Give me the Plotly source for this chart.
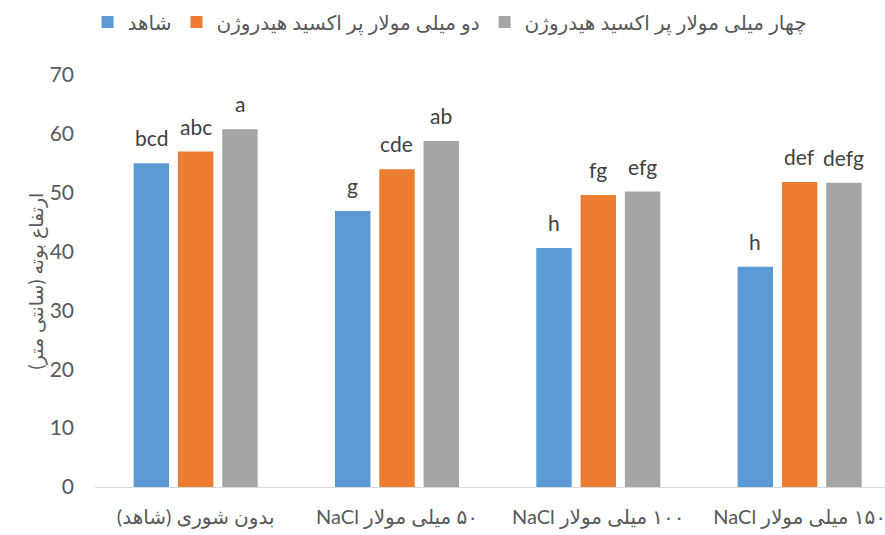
import plotly.graph_objects as go

RLE, PDF = "\u202b", "\u202c"


def rtl(s):
    # lay the string out as a right-to-left paragraph
    return RLE + s + PDF


# Plant height by salinity level and hydrogen peroxide treatment
categories = [
    "بدون شوری (شاهد)",
    "۵۰ میلی مولار NaCl",
    "۱۰۰ میلی مولار NaCl",
    "۱۵۰ میلی مولار NaCl",
]
series_names = [
    "شاهد",
    "دو میلی مولار پر اکسید هیدروژن",
    "چهار میلی مولار پر اکسید هیدروژن",
]
control = [55.0, 46.9, 40.6, 37.4]
h2o2_2mm = [57.0, 54.0, 49.6, 51.8]
h2o2_4mm = [60.8, 58.8, 50.2, 51.7]

letters_control = ["bcd", "g", "h", "h"]
letters_2mm = ["abc", "cde", "fg", "def"]
letters_4mm = ["a", "ab", "efg", "defg"]

y_ticks = [0, 10, 20, 30, 40, 50, 60, 70]
y_title = "ارتفاع بوته (سانتی متر)"

colors = ["#5B9BD5", "#ED7D31", "#A5A5A5"]
FONT = "Lato, 'DejaVu Sans', sans-serif"

W, H = 885, 535
M_L, M_R, M_T, M_B = 95, 0, 75, 48
X_RANGE = [-0.5, 3.424]
BARGAP = 0.34
BARGROUPGAP = 0.2

x_labels = [rtl(c) for c in categories]

fig = go.Figure()
for name, vals, col in zip(series_names, [control, h2o2_2mm, h2o2_4mm], colors):
    fig.add_trace(go.Bar(
        x=x_labels, y=vals, name=rtl(name),
        marker=dict(color=col, line=dict(width=0)),
    ))

# letter labels above each bar, shifted to the bar's slot within the group
plot_w = W - M_L - M_R
px_per_cat = plot_w / (X_RANGE[1] - X_RANGE[0])
slot_px = px_per_cat * (1 - BARGAP) / 3
for i, (vals, labs) in enumerate(zip([control, h2o2_2mm, h2o2_4mm],
                                     [letters_control, letters_2mm, letters_4mm])):
    for cat, v, lab in zip(x_labels, vals, labs):
        fig.add_annotation(
            x=cat, y=v, text=lab, showarrow=False,
            xanchor="center", yanchor="bottom",
            xshift=(i - 1) * slot_px, yshift=11,
            font=dict(family=FONT, size=21, color="#404040"),
        )

fig.update_layout(
    width=W, height=H,
    margin=dict(l=M_L, r=M_R, t=M_T, b=M_B, pad=0, autoexpand=False),
    paper_bgcolor="white", plot_bgcolor="white",
    barmode="group", bargap=BARGAP, bargroupgap=BARGROUPGAP,
    font=dict(family=FONT, color="#595959"),
    showlegend=True,
    legend=dict(
        orientation="h", xref="container", x=0.508, xanchor="center",
        yref="container", y=1 - 22 / H, yanchor="middle",
        font=dict(family=FONT, size=20, color="#595959"),
        itemclick=False, itemdoubleclick=False,
    ),
    xaxis=dict(
        range=X_RANGE, showgrid=False, zeroline=False, automargin=False,
        showline=True, linecolor="#D9D9D9", linewidth=1,
        ticks="", tickfont=dict(family=FONT, size=20, color="#595959"),
        ticklabelstandoff=12,
    ),
    yaxis=dict(
        range=[0, 70], tickvals=y_ticks, showgrid=False, zeroline=False,
        automargin=False, showline=False, ticks="",
        tickfont=dict(family=FONT, size=21, color="#595959"),
        ticklabelstandoff=20,
        title=dict(text=rtl(y_title), font=dict(family=FONT, size=19, color="#595959"),
                   standoff=0),
    ),
)

fig.write_html("out.html")
